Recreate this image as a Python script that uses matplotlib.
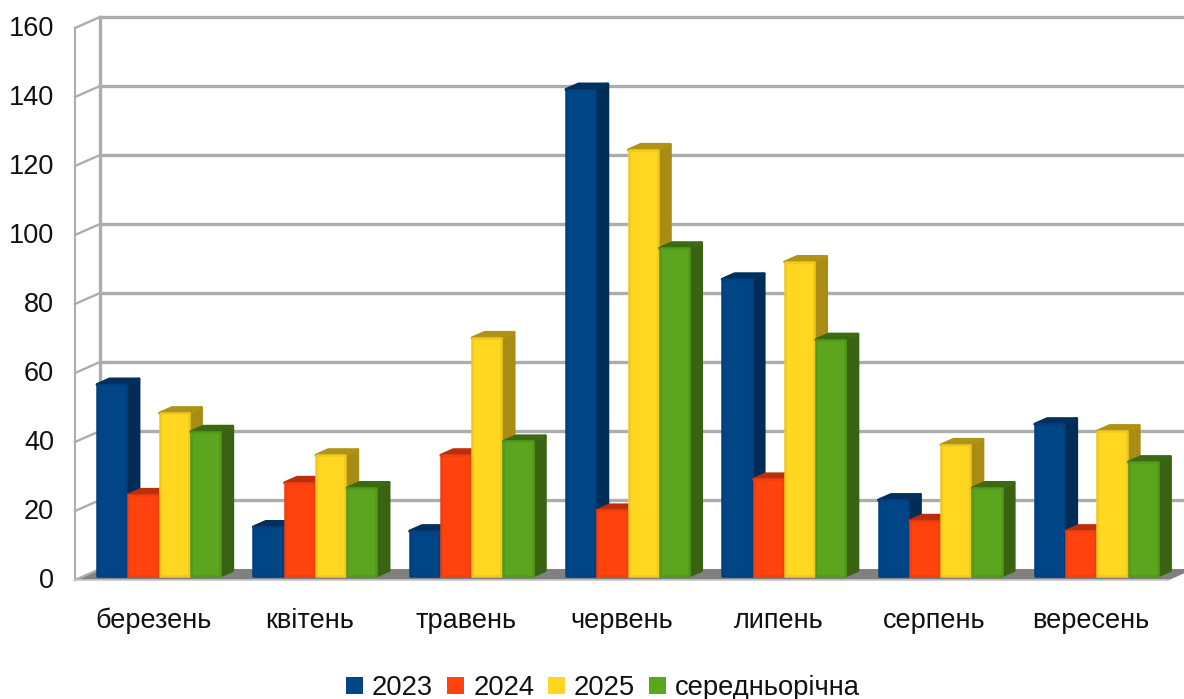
import numpy as np
import matplotlib
matplotlib.use("Agg")
import matplotlib.pyplot as plt
from matplotlib.patches import Polygon, Patch
from matplotlib.transforms import ScaledTranslation

plt.rcParams['font.family'] = ['Liberation Sans', 'DejaVu Sans']

months = ['березень', 'квітень', 'травень', 'червень', 'липень', 'серпень', 'вересень']
v2023 = [55.5, 14.2, 13, 141, 86, 22, 44]
v2024 = [23.5, 27, 35, 19, 28, 16, 13]
v2025 = [47.2, 35, 69, 123.5, 91, 38, 42]
avg = [41.8, 25.5, 39, 95, 68.5, 25.5, 33]
names = ['2023', '2024', '2025', 'середньорічна']
yticks = [0, 20, 40, 60, 80, 100, 120, 140, 160]

front = ['#004586', '#ff420e', '#ffd720', '#5ba61e']
side = ['#002d57', '#b32e0a', '#a88c14', '#386412']
top = ['#00305e', '#bb300b', '#b09316', '#3b6a13']
edge = ['#004080', '#ee3f0e', '#f0c81e', '#54991b']

W, H = 1184, 699
fig = plt.figure(figsize=(W / 100, H / 100), dpi=100)
ax = fig.add_axes([75 / W, 1 - 580 / H, 1094 / W, 552 / H])
ax.set_xlim(-0.5, 6.5)
ax.set_ylim(0, 160)

px_x = 7 / 1094      # data units per pixel along x
px_y = 160 / 552     # data units per pixel along y

# depth of the chart box and of the bars
box_dx, box_dy = 25 * px_x, 11 * px_y
bar_dx, bar_dy = 12.5 * px_x, 5.5 * px_y
shift_x, shift_y = 6.5 * px_x, 4 * px_y

grey = '#adadad'

# floor
ax.add_patch(Polygon([(-0.5, 0), (-0.5 + box_dx, box_dy), (6.5 + box_dx, box_dy), (6.5, 0)],
                     closed=True, fc='#808080', ec='none', zorder=1, clip_on=False))

# back wall grid and side wall grid
for t in yticks:
    if t > 0:
        ax.plot([-0.5 + box_dx, 6.5 + box_dx], [t + box_dy, t + box_dy], color=grey,
                lw=2.4, zorder=0, clip_on=False, solid_capstyle='butt')
    ax.plot([-0.5, -0.5 + box_dx], [t, t + box_dy], color=grey, lw=1.7, zorder=1.5,
            clip_on=False)
ax.plot([-0.5 + box_dx, -0.5 + box_dx], [box_dy, 160 + box_dy], color=grey, lw=2.4,
        zorder=1.5, clip_on=False)
ax.plot([-0.5, -0.5], [0, 160], color=grey, lw=1.5, zorder=1.5, clip_on=False)
ax.plot([-0.5, 6.5], [0, 0], color='#c8c8c8', lw=1.2, zorder=1.5, clip_on=False)

# bars, left to right so each one covers the side of the previous one
series = [v2023, v2024, v2025, avg]
bar_w = 0.2
x_pos = np.arange(len(months))
z = 2
for m in x_pos:
    for i, vals in enumerate(series):
        x0 = m + shift_x + (i - 2) * bar_w
        x1 = x0 + bar_w - 2 * px_x
        v = vals[m]
        ax.add_patch(Polygon([(x1, shift_y), (x1 + bar_dx, shift_y + bar_dy),
                              (x1 + bar_dx, shift_y + v + bar_dy), (x1, shift_y + v)],
                             closed=True, fc=side[i], ec=side[i], lw=2.2, joinstyle='round',
                             zorder=z, clip_on=False))
        ax.add_patch(Polygon([(x0, shift_y + v), (x0 + bar_dx, shift_y + v + bar_dy),
                              (x1 + bar_dx, shift_y + v + bar_dy), (x1, shift_y + v)],
                             closed=True, fc=top[i], ec=top[i], lw=2.2, joinstyle='round',
                             zorder=z, clip_on=False))
        ax.bar(x0, v, width=x1 - x0, bottom=shift_y, align='edge', color=front[i],
               edgecolor=edge[i], linewidth=1.8, joinstyle='round', zorder=z + 0.5,
               clip_on=False)
        z += 1

for s in ax.spines.values():
    s.set_visible(False)
ax.patch.set_alpha(0)
ax.set_yticks(yticks)
ax.set_yticklabels([str(t) for t in yticks], fontsize=19.5, color='#111111')
ax.set_xticks(x_pos)
ax.set_xticklabels(months, fontsize=19.5, color='#111111')
ax.tick_params(axis='y', length=0, pad=15)
ax.tick_params(axis='x', length=0, pad=20)

# nudge the value labels up a little
nudge = ScaledTranslation(0, 1.5 / 72, fig.dpi_scale_trans)
for lab in ax.get_yticklabels():
    lab.set_transform(lab.get_transform() + nudge)

handles = [Patch(fc=c, ec='none') for c in front]
fig.legend(handles, names, ncol=4, loc='center', bbox_to_anchor=(603 / W, 1 - 688 / H),
           frameon=False, fontsize=19.7, handlelength=0.62, handleheight=0.62,
           handletextpad=0.34, columnspacing=0.5, borderpad=0, labelcolor='#111111')

fig.savefig('out.png', dpi=100)
